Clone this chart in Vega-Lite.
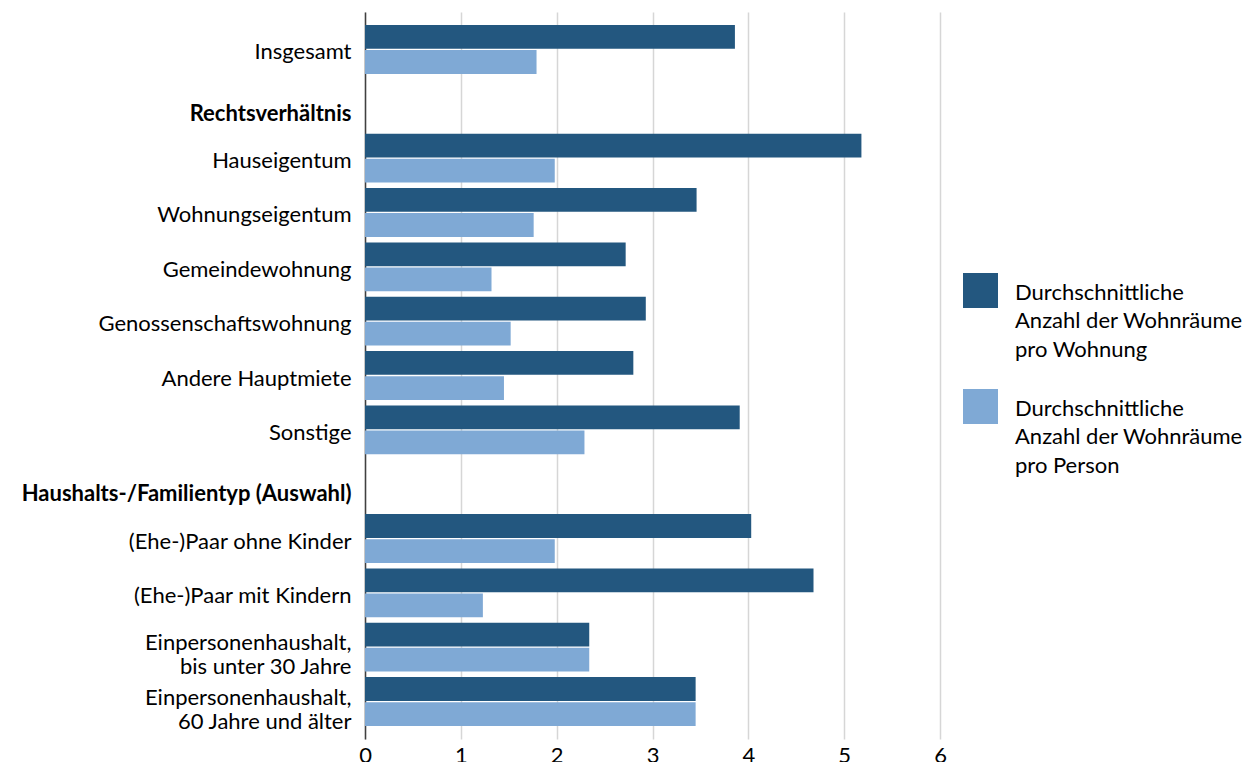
{
  "$schema": "https://vega.github.io/schema/vega-lite/v6.json",
  "width": 575,
  "height": 727,
  "autosize": {"type": "none"},
  "padding": {"left": 365, "top": 12, "right": 310, "bottom": 23},
  "background": "white",
  "view": {"stroke": null},
  "data": {
    "values": [
      {"kategorie": "Insgesamt", "kennzahl": "pro Wohnung", "wert": 3.86},
      {"kategorie": "Insgesamt", "kennzahl": "pro Person", "wert": 1.79},
      {"kategorie": "Hauseigentum", "kennzahl": "pro Wohnung", "wert": 5.18},
      {"kategorie": "Hauseigentum", "kennzahl": "pro Person", "wert": 1.98},
      {"kategorie": "Wohnungseigentum", "kennzahl": "pro Wohnung", "wert": 3.46},
      {"kategorie": "Wohnungseigentum", "kennzahl": "pro Person", "wert": 1.76},
      {"kategorie": "Gemeindewohnung", "kennzahl": "pro Wohnung", "wert": 2.72},
      {"kategorie": "Gemeindewohnung", "kennzahl": "pro Person", "wert": 1.32},
      {"kategorie": "Genossenschaftswohnung", "kennzahl": "pro Wohnung", "wert": 2.93},
      {"kategorie": "Genossenschaftswohnung", "kennzahl": "pro Person", "wert": 1.52},
      {"kategorie": "Andere Hauptmiete", "kennzahl": "pro Wohnung", "wert": 2.80},
      {"kategorie": "Andere Hauptmiete", "kennzahl": "pro Person", "wert": 1.45},
      {"kategorie": "Sonstige", "kennzahl": "pro Wohnung", "wert": 3.91},
      {"kategorie": "Sonstige", "kennzahl": "pro Person", "wert": 2.29},
      {"kategorie": "(Ehe-)Paar ohne Kinder", "kennzahl": "pro Wohnung", "wert": 4.03},
      {"kategorie": "(Ehe-)Paar ohne Kinder", "kennzahl": "pro Person", "wert": 1.98},
      {"kategorie": "(Ehe-)Paar mit Kindern", "kennzahl": "pro Wohnung", "wert": 4.68},
      {"kategorie": "(Ehe-)Paar mit Kindern", "kennzahl": "pro Person", "wert": 1.23},
      {"kategorie": "Einpersonenhaushalt, bis unter 30 Jahre", "kennzahl": "pro Wohnung", "wert": 2.34},
      {"kategorie": "Einpersonenhaushalt, bis unter 30 Jahre", "kennzahl": "pro Person", "wert": 2.34},
      {"kategorie": "Einpersonenhaushalt, 60 Jahre und älter", "kennzahl": "pro Wohnung", "wert": 3.45},
      {"kategorie": "Einpersonenhaushalt, 60 Jahre und älter", "kennzahl": "pro Person", "wert": 3.45}
    ]
  },
  "mark": {"type": "bar"},
  "encoding": {
    "y": {
      "field": "kategorie",
      "type": "nominal",
      "title": null,
      "scale": {
        "domain": [
          "Insgesamt",
          "Rechtsverhältnis",
          "Hauseigentum",
          "Wohnungseigentum",
          "Gemeindewohnung",
          "Genossenschaftswohnung",
          "Andere Hauptmiete",
          "Sonstige",
          "Haushalts-/Familientyp (Auswahl)",
          "(Ehe-)Paar ohne Kinder",
          "(Ehe-)Paar mit Kindern",
          "Einpersonenhaushalt, bis unter 30 Jahre",
          "Einpersonenhaushalt, 60 Jahre und älter"
        ],
        "paddingInner": 0.1,
        "paddingOuter": 0.24
      },
      "axis": {
        "domain": true,
        "domainColor": "#404040",
        "domainWidth": 1.5,
        "ticks": false,
        "grid": false,
        "labelFont": "Lato",
        "labelFontSize": 22,
        "labelColor": "#000000",
        "labelPadding": 14,
        "labelLimit": 400,
        "labelLineHeight": 24,
        "labelFontWeight": {
          "condition": {"test": "datum.label === 'Rechtsverhältnis' || datum.label === 'Haushalts-/Familientyp (Auswahl)'", "value": "bold"},
          "value": "normal"
        },
        "labelOffset": {
          "condition": [
            {"test": "datum.label === 'Rechtsverhältnis' || datum.label === 'Haushalts-/Familientyp (Auswahl)'", "value": 10},
            {"test": "indexof(datum.label, ', ') > 0", "value": -4}
          ],
          "value": 3
        },
        "labelExpr": "indexof(datum.label, ', ') > 0 ? [slice(datum.label, 0, indexof(datum.label, ', ') + 1), slice(datum.label, indexof(datum.label, ', ') + 2)] : datum.label"
      }
    },
    "x": {
      "field": "wert",
      "type": "quantitative",
      "title": null,
      "scale": {"domain": [0, 6], "nice": false},
      "axis": {
        "values": [0, 1, 2, 3, 4, 5, 6],
        "domain": false,
        "ticks": false,
        "grid": true,
        "gridColor": "#d6d6d6",
        "gridWidth": 1.5,
        "labelFont": "Lato",
        "labelFontSize": 22,
        "labelColor": "#000000",
        "labelPadding": 6,
        "labelFlush": false
      }
    },
    "yOffset": {
      "field": "kennzahl",
      "type": "nominal",
      "sort": ["pro Wohnung", "pro Person"],
      "scale": {"paddingInner": 0.05}
    },
    "color": {
      "field": "kennzahl",
      "type": "nominal",
      "scale": {"domain": ["pro Wohnung", "pro Person"], "range": ["#23577F", "#7FA9D5"]},
      "legend": {
        "title": null,
        "orient": "none",
        "legendX": 598,
        "legendY": 261,
        "padding": 0,
        "symbolType": "square",
        "symbolSize": 1225,
        "symbolStrokeWidth": 0,
        "symbolOpacity": 1,
        "labelFont": "Lato",
        "labelFontSize": 22,
        "labelColor": "#000000",
        "labelBaseline": "alphabetic",
        "labelOffset": 17,
        "labelLimit": 400,
        "rowPadding": 28,
        "labelExpr": "['Durchschnittliche', 'Anzahl der Wohnräume', datum.label]",
        "encode": {"labels": {"update": {"dy": {"value": 9}, "lineHeight": {"value": 28.7}}}}
      }
    }
  }
}
